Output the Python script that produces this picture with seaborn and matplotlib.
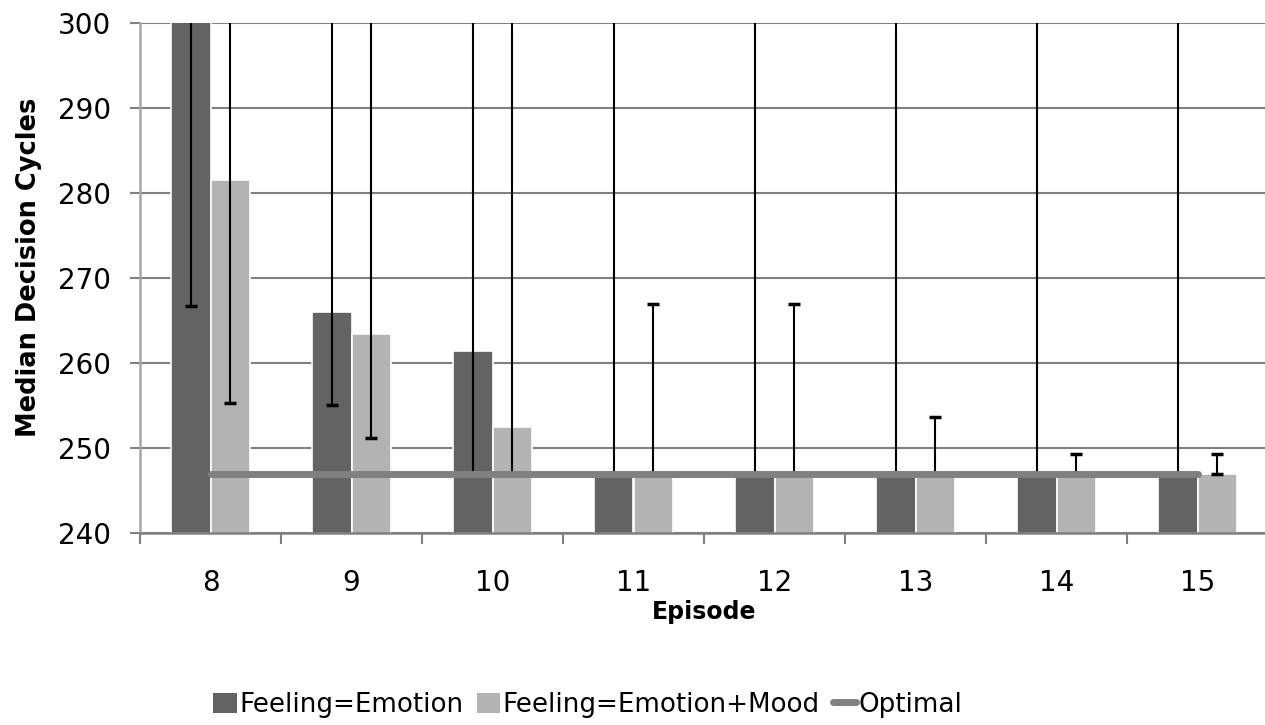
import numpy as np
import pandas as pd
import matplotlib
matplotlib.use("Agg")
import matplotlib.pyplot as plt
import seaborn as sns
from matplotlib.patches import Patch
from matplotlib.lines import Line2D

sns.set_theme(style="white")
plt.rcParams['font.family'] = ['DejaVu Sans']
plt.rcParams['text.color'] = 'black'
plt.rcParams['axes.labelcolor'] = 'black'

episodes = ["8", "9", "10", "11", "12", "13", "14", "15"]
series = ["Feeling=Emotion", "Feeling=Emotion+Mood"]

# medians (first bar of episode 8 runs off the top of the axis)
emotion = [310, 266.0, 261.4, 247, 247, 247, 247, 247]
emotion_lo = [266.7, 255.1, 247, 247, 247, 247, 247, 247]
emotion_hi = [330, 330, 330, 330, 330, 330, 330, 330]

mood = [281.5, 263.4, 252.5, 247, 247, 247, 247, 247]
mood_lo = [255.3, 251.2, 247, 247, 247, 247, 247, 247]
mood_hi = [330, 330, 330, 267.0, 267.0, 253.7, 249.3, 249.3]

optimal = [247, 247, 247, 247, 247, 247, 247, 247]

dark = "#636363"
light = "#b3b3b3"
gridc = "#808080"

df = pd.DataFrame({
    "Episode": episodes * 2,
    "Feeling": [series[0]] * 8 + [series[1]] * 8,
    "Cycles": emotion + mood,
})

fig = plt.figure(figsize=(12.65, 7.25), dpi=100)
ax = fig.add_axes([140 / 1265, 1 - 533 / 725, 1128 / 1265, 510 / 725])

sns.barplot(data=df, x="Episode", y="Cycles", hue="Feeling", order=episodes,
            palette=[dark, light], errorbar=None, width=0.555,
            edgecolor="white", linewidth=1.2, ax=ax, zorder=2, legend=False)

# asymmetric error bars at each bar centre
for cont, vals, lo, hi in zip(ax.containers, [emotion, mood], [emotion_lo, mood_lo], [emotion_hi, mood_hi]):
    xs = [b.get_x() + b.get_width() / 2 for b in cont]
    v = np.array(vals)
    ax.errorbar(xs, v, yerr=[v - np.array(lo), np.array(hi) - v], fmt="none",
                ecolor="black", elinewidth=1.5, capsize=4, capthick=2.5, zorder=3)

ax.plot(np.arange(len(episodes)), optimal, color=gridc, lw=5,
        solid_capstyle="round", zorder=4)

ax.set_ylim(240, 300)
ax.set_xlim(-0.5, 7.5)
ax.set_yticks(np.arange(240, 301, 10))
ax.yaxis.grid(True, color=gridc, lw=1.5, zorder=0)
ax.set_axisbelow(True)

for s in ["top", "right"]:
    ax.spines[s].set_visible(False)
ax.spines["left"].set_color("#a6a6a6")
ax.spines["left"].set_linewidth(1.8)
ax.spines["bottom"].set_color(gridc)
ax.spines["bottom"].set_linewidth(1.8)

ax.set_xticks(np.arange(-0.5, 8, 1), minor=True)
ax.tick_params(axis="x", which="major", length=0, pad=26, labelsize=20, labelcolor="black")
ax.tick_params(axis="x", which="minor", length=8, width=1.5, color=gridc, direction="out", bottom=True)
ax.tick_params(axis="y", which="major", length=7, width=1.5, color=gridc, direction="out",
               pad=14, labelsize=20, left=True, labelcolor="black")

ax.set_xlabel("Episode", fontsize=17, fontweight="bold")
ax.xaxis.set_label_coords(0.5, -0.132)
ax.xaxis.label.set_va("top")
ax.set_ylabel("Median Decision Cycles", fontsize=18.5, fontweight="bold")
ax.yaxis.set_label_coords(-0.087, 0.52)

handles = [Patch(facecolor=dark, edgecolor="none"),
           Patch(facecolor=light, edgecolor="none"),
           Line2D([0], [0], color=gridc, lw=5, solid_capstyle="round")]
fig.legend(handles, series + ["Optimal"], loc="center", bbox_to_anchor=(588 / 1265, 1 - 705 / 725),
           ncol=3, frameon=False, fontsize=18.8, handlelength=0.9, handleheight=0.85,
           handletextpad=0.1, columnspacing=0.5, borderaxespad=0)

fig.savefig("out.png", dpi=100, facecolor="white")
